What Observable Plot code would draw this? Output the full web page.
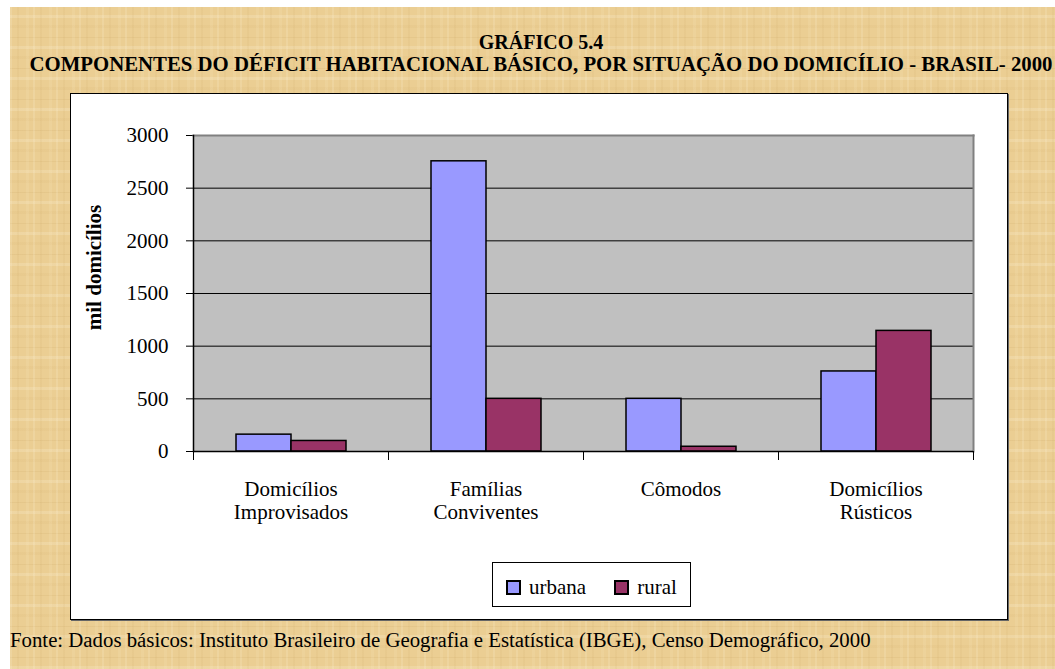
<!DOCTYPE html>
<html>
<head>
<meta charset="utf-8">
<script src="https://cdn.jsdelivr.net/npm/d3@7"></script>
<script src="https://cdn.jsdelivr.net/npm/@observablehq/plot@0.6"></script>
<style>
  html, body { margin: 0; padding: 0; }
  body { width: 1055px; height: 669px; overflow: hidden; background: #fff; position: relative;
         font-family: "Liberation Serif", "Times New Roman", serif; color: #000; }
  #bg { position: absolute; left: 10px; top: 7px; right: 0; bottom: 0;
        background-color: #EBCE93;
        background-image:
          repeating-linear-gradient(90deg, rgba(255,246,222,0.16) 0 2px, transparent 2px 7px, rgba(185,145,75,0.07) 7px 9px, transparent 9px 16px, rgba(255,240,205,0.12) 16px 19px, transparent 19px 23px),
          repeating-linear-gradient(0deg, rgba(255,250,232,0.18) 0 3px, transparent 3px 11px, rgba(175,135,65,0.10) 11px 12px, transparent 12px 21px, rgba(200,160,90,0.08) 21px 24px, transparent 24px 31px);
  }
  .title { position: absolute; left: 0; width: 1082px; text-align: center; white-space: nowrap;
           font-weight: bold; font-size: 20px; line-height: 22px; }
  #t1 { top: 31px; }
  #t2 { top: 53px; font-size: 20.8px; }
  #box { position: absolute; left: 70px; top: 93px; width: 936px; height: 525px;
         background: #fff; border: 1px solid #000; box-shadow: 1px 1px 0 #666; }
  #chart { position: absolute; left: 0; top: 0; }
  #legend { position: absolute; left: 421px; top: 468px; width: 197px;
            border: 1px solid #000; background: #fff; display: flex; align-items: center;
            padding-top: 6px; box-sizing: content-box; height: 37px; font-size: 21px; }
  .item { display: flex; align-items: center; }
  .sw { width: 11px; height: 11px; border: 2px solid #000; margin-right: 8px; }
  #foot { position: absolute; left: 10px; top: 628px; font-size: 20.8px; white-space: nowrap; }
</style>
</head>
<body>
<div id="bg"></div>
<div class="title" id="t1">GRÁFICO 5.4</div>
<div class="title" id="t2">COMPONENTES DO DÉFICIT HABITACIONAL BÁSICO, POR SITUAÇÃO DO DOMICÍLIO - BRASIL- 2000</div>
<div id="box">
  <div id="chart"></div>
  <div id="legend"></div>
</div>
<div id="foot">Fonte: Dados básicos: Instituto Brasileiro de Geografia e Estatística (IBGE), Censo Demográfico, 2000</div>
<script>
const categories = ["Domicílios Improvisados", "Famílias Conviventes", "Cômodos", "Domicílios Rústicos"];
const categoryLabels = ["Domicílios\nImprovisados", "Famílias\nConviventes", "Cômodos", "Domicílios\nRústicos"];
const series = ["urbana", "rural"];
const urbana = [160, 2755, 500, 760];
const rural = [100, 500, 45, 1145];
const colors = ["#9999FF", "#993366"];
const yTicks = [0, 500, 1000, 1500, 2000, 2500, 3000];
const yLabel = "mil domicílios";

const data = categories.flatMap((c, i) => [
  {cat: c, s: series[0], v: urbana[i]},
  {cat: c, s: series[1], v: rural[i]}
]);

const chart = Plot.plot({
  width: 936, height: 460,
  marginLeft: 121, marginRight: 33, marginTop: 41, marginBottom: 103,
  style: {fontFamily: '"Liberation Serif", "Times New Roman", serif', fontSize: "21px", color: "#000", background: "transparent", overflow: "visible"},
  fx: {domain: categories, padding: 0, axis: null},
  x: {domain: series, paddingInner: 0, paddingOuter: 0.745, axis: null},
  y: {domain: [0, 3000], ticks: yTicks, tickSize: 7, tickPadding: 18, label: null, tickFormat: d => String(d)},
  color: {domain: series, range: colors},
  marks: [
    Plot.frame({facet: "super", fill: "#C0C0C0", stroke: null}),
    Plot.ruleY(yTicks.slice(1, -1), {stroke: "#000", strokeWidth: 1}),
    Plot.frame({facet: "super", anchor: "top", stroke: "#808080", strokeWidth: 2}),
    Plot.frame({facet: "super", anchor: "right", stroke: "#808080", strokeWidth: 2}),
    Plot.barY(data, {fx: "cat", x: "s", y: "v", fill: "s", stroke: "#000", strokeWidth: 1.5}),
    Plot.ruleY([0], {stroke: "#000", strokeWidth: 1.5}),
    Plot.frame({facet: "super", anchor: "left", stroke: "#000", strokeWidth: 1.5}),
    Plot.frame({anchor: "left", insetTop: 316, insetBottom: -8, stroke: "#000", strokeWidth: 1}),
    Plot.frame({anchor: "right", insetTop: 316, insetBottom: -8, stroke: "#000", strokeWidth: 1}),
    Plot.text(categories, {fx: d => d, text: (d, i) => categoryLabels[i], frameAnchor: "bottom", lineAnchor: "top", dy: 28, fontSize: 21, lineHeight: 1.1}),
    Plot.text([yLabel], {fx: () => categories[0], frameAnchor: "left", textAnchor: "middle", rotate: -90, dx: -99, dy: -26, fontWeight: "bold", fontSize: 21})
  ]
});
document.getElementById("chart").appendChild(chart);

const legend = document.getElementById("legend");
series.forEach((s, i) => {
  const item = document.createElement("div");
  item.className = "item";
  item.style.marginLeft = i === 0 ? "13px" : "28px";
  const sw = document.createElement("span");
  sw.className = "sw";
  sw.style.background = colors[i];
  const lab = document.createElement("span");
  lab.textContent = s;
  item.appendChild(sw);
  item.appendChild(lab);
  legend.appendChild(item);
});
</script>
</body>
</html>
